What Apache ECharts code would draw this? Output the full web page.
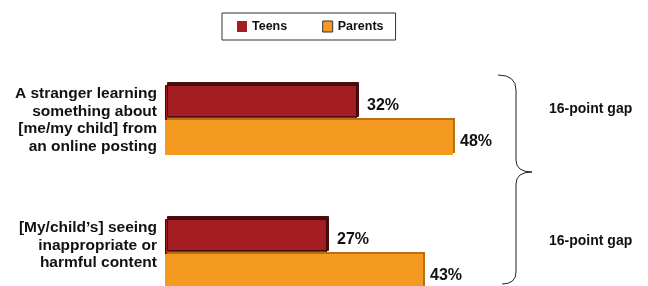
<!DOCTYPE html>
<html>
<head>
<meta charset="utf-8">
<script src="https://cdn.jsdelivr.net/npm/echarts@6/dist/echarts.min.js"></script>
<style>
  html, body { margin: 0; padding: 0; background: #fff; }
  #chart { width: 648px; height: 286px; }
</style>
</head>
<body>
<div id="chart"></div>
<script>
// data
var categories = [
  "A stranger learning\nsomething about\n[me/my child] from\nan online posting",
  "[My/child’s] seeing\ninappropriate or\nharmful content"
];
var teens = [32, 27];
var parents = [48, 43];

var gapText = teens.map(function (t, i) {
  return (parents[i] - t) + "-point gap";
});

var font = "'Liberation Sans', Arial, Helvetica, sans-serif";
var braceStyle = { fill: "none", stroke: "#222", lineWidth: 1 };

function curve(x1, y1, cx, cy, x2, y2) {
  return {
    type: "bezierCurve",
    shape: { x1: x1, y1: y1, cpx1: cx, cpy1: cy, x2: x2, y2: y2 },
    style: braceStyle
  };
}
function seg(x1, y1, x2, y2) {
  return { type: "line", shape: { x1: x1, y1: y1, x2: x2, y2: y2 }, style: braceStyle };
}

var noShadow = { shadowColor: "rgba(0,0,0,0)", shadowOffsetX: 0, shadowOffsetY: 0, shadowBlur: 0 };

var myChart = echarts.init(document.getElementById("chart"));
myChart.setOption({
  backgroundColor: "#fff",
  animation: false,
  legend: {
    left: 222,
    top: 13,
    padding: [7, 12, 7, 15],
    borderColor: "#333",
    borderWidth: 1,
    icon: "rect",
    itemWidth: 10,
    itemHeight: 11,
    itemGap: 35,
    textStyle: { fontFamily: font, fontWeight: "bold", fontSize: 12.5, color: "#111" },
    data: [
      { name: "Teens", itemStyle: Object.assign({ borderWidth: 0 }, noShadow) },
      { name: "Parents", itemStyle: Object.assign({ borderColor: "#333", borderWidth: 1 }, noShadow) }
    ]
  },
  grid: { left: 165, top: 53, width: 360, height: 268, outerBoundsMode: "none" },
  xAxis: {
    type: "value",
    min: 0,
    max: 60,
    show: false
  },
  yAxis: {
    type: "category",
    inverse: true,
    data: categories,
    axisLine: { show: false },
    axisTick: { show: false },
    axisLabel: {
      margin: 8,
      fontFamily: font,
      fontWeight: "bold",
      fontSize: 15.5,
      lineHeight: 17.5,
      color: "#111",
      align: "right",
      // second label sits a little above its bars in the original
      formatter: function (v, i) {
        return i === 1 ? v + "\n " : v;
      }
    }
  },
  series: [
    {
      name: "Teens",
      type: "bar",
      data: teens,
      barWidth: 35,
      barGap: "0%",
      itemStyle: {
        color: "#A31D22",
        borderColor: "#3a0a0a",
        borderWidth: 1,
        shadowColor: "#4a0d0d",
        shadowOffsetX: 2,
        shadowOffsetY: -3,
        shadowBlur: 0
      },
      label: {
        show: true,
        position: "right",
        distance: 10,
        offset: [0, 3],
        formatter: "{c}%",
        fontFamily: font,
        fontWeight: "bold",
        fontSize: 16,
        color: "#111"
      }
    },
    {
      name: "Parents",
      type: "bar",
      data: parents,
      barWidth: 35,
      itemStyle: {
        color: "#F49A20",
        borderColor: "#333",
        borderWidth: 0,
        shadowColor: "#b86f16",
        shadowOffsetX: 2,
        shadowOffsetY: -2,
        shadowBlur: 0
      },
      label: {
        show: true,
        position: "right",
        distance: 7,
        offset: [0, 4],
        formatter: "{c}%",
        fontFamily: font,
        fontWeight: "bold",
        fontSize: 16,
        color: "#111"
      }
    }
  ],
  graphic: [
    curve(498, 75, 516, 75, 516, 90),
    seg(516, 90, 516, 160),
    curve(516, 160, 516, 172, 532, 172),
    curve(532, 172, 516, 172, 516, 184),
    seg(516, 184, 516, 272),
    curve(516, 272, 516, 284, 502, 284),
    {
      type: "text",
      left: 549,
      top: 102,
      style: { text: gapText[0], fontFamily: font, fontWeight: "bold", fontSize: 14, fill: "#111" }
    },
    {
      type: "text",
      left: 549,
      top: 234,
      style: { text: gapText[1], fontFamily: font, fontWeight: "bold", fontSize: 14, fill: "#111" }
    }
  ]
});
</script>
</body>
</html>
